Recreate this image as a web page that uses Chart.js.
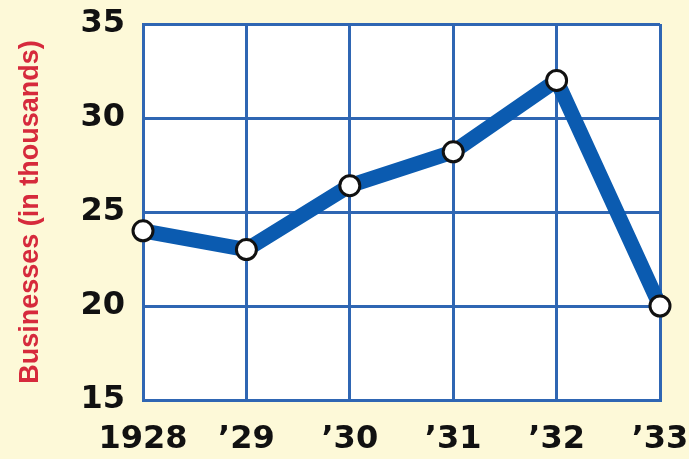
<!DOCTYPE html>
<html>
<head>
<meta charset="utf-8">
<script src="https://cdn.jsdelivr.net/npm/chart.js@4"></script>
<style>
html,body{margin:0;padding:0;background:#fdf9d8;}
#wrap{width:689px;height:459px;position:relative;}
</style>
</head>
<body>
<div id="wrap"><canvas id="c" width="689" height="459"></canvas></div>
<script>
const categories = ["1928", "\u201929", "\u201930", "\u201931", "\u201932", "\u201933"];
const businesses = [24, 23, 26.4, 28.2, 32, 20];
const yTicks = [15, 20, 25, 30, 35];
const yTitle = "Businesses (in thousands)";

const plotBg = {
  id: 'plotBg',
  beforeDraw(chart) {
    const {ctx, chartArea: a} = chart;
    ctx.save();
    ctx.fillStyle = '#ffffff';
    ctx.fillRect(a.left, a.top, a.right - a.left, a.bottom - a.top);
    ctx.restore();
  }
};

const tickFont = {family: "'DejaVu Sans', sans-serif", size: 32, weight: 'bold'};

new Chart(document.getElementById('c'), {
  type: 'line',
  data: {
    labels: categories,
    datasets: [{
      data: businesses,
      borderColor: '#0b5bb0',
      borderWidth: 15,
      pointRadius: 10,
      pointBorderWidth: 3,
      pointBackgroundColor: '#ffffff',
      pointBorderColor: '#111111',
      tension: 0,
      clip: false,
      borderJoinStyle: 'round'
    }]
  },
  options: {
    responsive: false,
    animation: false,
    devicePixelRatio: 1,
    layout: {autoPadding: false, padding: 0},
    plugins: {legend: {display: false}, tooltip: {enabled: false}},
    scales: {
      x: {
        offset: false,
        afterFit(scale) { scale.height = 59; scale.paddingLeft = 0; scale.paddingRight = 29; },
        grid: {color: '#2f66b3', lineWidth: 3, drawTicks: false},
        border: {color: '#2f66b3', width: 3},
        ticks: {color: '#111', font: tickFont, padding: 20, maxRotation: 0, autoSkip: false}
      },
      y: {
        min: 15, max: 35,
        afterFit(scale) { scale.width = 143; scale.paddingTop = 24; scale.paddingBottom = 0; },
        afterBuildTicks(scale) { scale.ticks = yTicks.map(v => ({value: v})); },
        grid: {color: '#2f66b3', lineWidth: 3, drawTicks: false},
        border: {color: '#2f66b3', width: 3},
        ticks: {color: '#111', font: tickFont, padding: 18},
        title: {display: true, text: yTitle, color: '#d62a3c',
          font: {family: "'Liberation Sans', Arial, sans-serif", size: 27, weight: 'bold'},
          padding: {top: 14, bottom: 0}}
      }
    }
  },
  plugins: [plotBg]
});
</script>
</body>
</html>
